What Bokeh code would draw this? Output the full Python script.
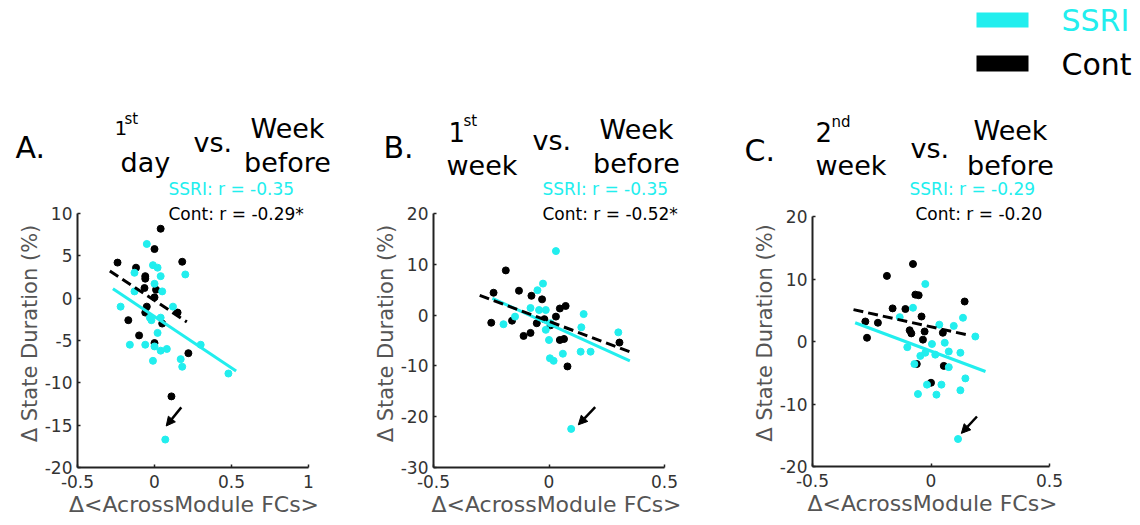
from bokeh.plotting import figure
from bokeh.layouts import row, column
from bokeh.models import (Label, Arrow, NormalHead, FixedTicker, CustomJSTickFormatter,
                          BoxAnnotation, Range1d)
from bokeh.embed import file_html
from bokeh.resources import INLINE

# ---------------- data ----------------
# Panel A: 1st day vs. week before
a_ssri_x = [-0.05, -0.01, 0.02, 0.04, 0.20, -0.13, 0.00, 0.05, -0.13, -0.22, 0.12, -0.03, -0.02,
            0.04, 0.02, -0.16, -0.06, 0.00, 0.04, 0.08, 0.30, -0.01, 0.17, 0.18, 0.48, 0.07]
a_ssri_y = [6.4, 3.9, 3.6, 2.6, 2.8, 3.0, 1.7, 0.8, 0.8, -1.0, -1.0, -2.3, -2.6,
            -2.3, -4.1, -5.5, -5.5, -5.7, -6.2, -6.0, -5.5, -7.4, -7.2, -8.1, -8.9, -16.7]
a_cont_x = [0.04, 0.00, -0.24, 0.18, -0.12, -0.06, -0.06, -0.065, 0.01, 0.00, -0.05, -0.06,
            -0.17, 0.15, 0.05, -0.10, 0.00, 0.22, 0.11]
a_cont_y = [8.2, 5.8, 4.2, 4.3, 3.6, 2.6, 2.3, 1.2, 1.0, 0.1, -1.0, -1.7,
            -2.6, -1.7, -3.0, -4.4, -5.3, -6.5, -11.6]
a_fit_ssri_x, a_fit_ssri_y = [-0.27, 0.53], [1.1, -8.6]
a_fit_cont_x, a_fit_cont_y = [-0.29, 0.21], [3.2, -2.8]
a_arrow = [0.174, -12.9, 0.076, -15.1]

# Panel B: 1st week vs. week before
b_ssri_x = [0.03, -0.026, -0.05, -0.08, -0.043, -0.014, -0.197, -0.147, -0.014, 0.007, 0.00,
            0.15, 0.14, 0.137, 0.18, 0.06, 0.004, 0.02, 0.30, 0.096]
b_ssri_y = [12.6, 6.2, 4.9, 1.4, 1.0, 1.0, -1.8, -0.3, -2.9, -1.6, -4.9,
            0.2, -2.4, -7.2, -7.2, -7.6, -8.5, -9.0, -3.4, -22.4]
b_cont_x = [-0.187, -0.24, -0.13, -0.076, -0.03, -0.25, -0.16, -0.11, -0.08, -0.053, -0.02,
            0.007, 0.03, 0.047, 0.072, 0.047, 0.065, 0.08, 0.305]
b_cont_y = [8.8, 4.4, 4.8, 3.8, 3.1, -1.5, -1.1, -4.1, -3.5, -1.6, -0.8,
            -2.0, -0.3, 1.3, 1.8, -4.9, -4.7, -10.1, -5.4]
b_fit_ssri_x, b_fit_ssri_y = [-0.245, 0.35], [3.3, -9.0]
b_fit_cont_x, b_fit_cont_y = [-0.30, 0.36], [3.9, -7.4]
b_arrow = [0.20, -18.1, 0.127, -21.6]

# Panel C: 2nd week vs. week before
c_ssri_x = [-0.024, -0.076, -0.132, 0.135, 0.096, 0.035, 0.187, -0.10, 0.004, 0.058, 0.075, 0.124,
            -0.045, -0.024, 0.018, -0.07, 0.075, 0.145, -0.055, -0.017, 0.023, 0.044, 0.124, 0.114]
c_ssri_y = [9.2, 5.4, 3.9, 3.8, 2.5, 2.7, 0.8, -0.9, -0.4, -0.2, -1.6, -1.8,
            -2.3, -1.8, -2.1, -3.6, -4.1, -5.9, -8.4, -6.9, -8.5, -6.9, -7.8, -15.6]
c_cont_x = [-0.076, -0.186, -0.066, -0.052, 0.142, -0.162, -0.108, -0.04, -0.277, -0.224,
            -0.09, -0.083, -0.027, -0.034, 0.05, -0.27, -0.06, 0.054, 0.00]
c_cont_y = [12.4, 10.5, 7.5, 7.4, 6.4, 5.3, 5.2, 4.0, 3.2, 3.0,
            1.8, 1.3, 1.6, 0.3, 1.4, 0.6, -3.6, -3.9, -6.6]
c_fit_ssri_x, c_fit_ssri_y = [-0.32, 0.23], [3.0, -4.8]
c_fit_cont_x, c_fit_cont_y = [-0.327, 0.16], [5.1, 1.0]
c_arrow = [0.194, -12.0, 0.128, -14.7]

r_ssri = ["SSRI: r = -0.35", "SSRI: r = -0.35", "SSRI: r = -0.29"]
r_cont = ["Cont: r = -0.29*", "Cont: r = -0.52*", "Cont: r = -0.20"]
letters = ["A.", "B.", "C."]
title_num = ["1", "1", "2"]
title_sup = ["st", "st", "nd"]
title_word = ["day", "week", "week"]
x_ticks = [[-0.5, 0, 0.5, 1], [-0.5, 0, 0.5], [-0.5, 0, 0.5]]
y_ticks = [[-20, -15, -10, -5, 0, 5, 10], [-30, -20, -10, 0, 10, 20], [-20, -10, 0, 10, 20]]
x_lims = [(-0.5, 1), (-0.5, 0.5), (-0.5, 0.5)]
y_lims = [(-20, 10), (-30, 20), (-20, 20)]
legend_labels = ["SSRI", "Cont"]

# ---------------- style / layout ----------------
CYAN = "#22EEEE"
BLACK = "#000000"
FONT = "DejaVu Sans"
AX = "#222222"
W, H = 1140, 525
HEADER_H = 199

# page pixel geometry: fig_left, fig_right, axis_left, axis_right, axis_top, axis_bottom, frame_right
geom = [(0, 370, 77, 308, 213, 467, 310),
        (370, 743, 427, 658, 213, 467, 673),
        (743, 1140, 800, 1037, 216, 466, 1040)]

data = [
    (a_ssri_x, a_ssri_y, a_cont_x, a_cont_y, a_fit_ssri_x, a_fit_ssri_y, a_fit_cont_x, a_fit_cont_y, a_arrow),
    (b_ssri_x, b_ssri_y, b_cont_x, b_cont_y, b_fit_ssri_x, b_fit_ssri_y, b_fit_cont_x, b_fit_cont_y, b_arrow),
    (c_ssri_x, c_ssri_y, c_cont_x, c_cont_y, c_fit_ssri_x, c_fit_ssri_y, c_fit_cont_x, c_fit_cont_y, c_arrow),
]

# title positions in page px
tpos = [dict(letter=(15, 147), num=(114, 127, "20px"), sup=(124, 118), word=(120, 162), vs=(193, 142), wk=(287, 128, 162)),
        dict(letter=(383, 147), num=(448, 131, "26px"), sup=(463, 120), word=(446, 165), vs=(532, 140), wk=(636, 129, 163)),
        dict(letter=(744, 150), num=(815, 131, "26px"), sup=(831, 121), word=(815, 165), vs=(910, 148), wk=(1010, 130, 165))]
r_left = [168, 542, 909]
TITLE_SIZE = "27px"


def lab(p, text, x, y, size, color="black", align="left", baseline="middle"):
    p.add_layout(Label(x=x, y=y, x_units="canvas", y_units="canvas", text=text,
                       text_font=FONT, text_font_size=size, text_color=color,
                       text_align=align, text_baseline=baseline))


# ---------- header figure (titles, legend, SSRI r) ----------
hdr = figure(width=W, height=HEADER_H, x_range=Range1d(0, W), y_range=Range1d(0, HEADER_H),
             x_axis_type=None, y_axis_type=None, min_border=0,
             output_backend="svg", toolbar_location=None)
hdr.outline_line_color = None
hdr.grid.visible = False
for i in range(3):
    t = tpos[i]
    lab(hdr, letters[i], t["letter"][0], t["letter"][1], "30px")
    lab(hdr, title_num[i], t["num"][0], t["num"][1], t["num"][2], baseline="alphabetic")
    lab(hdr, title_sup[i], t["sup"][0], t["sup"][1], "15px", baseline="alphabetic")
    lab(hdr, title_word[i], t["word"][0], t["word"][1], TITLE_SIZE, baseline="alphabetic")
    lab(hdr, "vs.", t["vs"][0], t["vs"][1], TITLE_SIZE)
    lab(hdr, "Week", t["wk"][0], t["wk"][1], TITLE_SIZE, align="center", baseline="alphabetic")
    lab(hdr, "before", t["wk"][0], t["wk"][2], TITLE_SIZE, align="center", baseline="alphabetic")
    lab(hdr, r_ssri[i], r_left[i], 188, "17px", CYAN)

# legend: swatches + labels
for name, col, (top, bottom, ty) in zip(legend_labels, [CYAN, BLACK], [(12, 27, 20), (55, 71, 64)]):
    hdr.add_layout(BoxAnnotation(left=976, right=1028, top=top, bottom=bottom,
                                 left_units="canvas", right_units="canvas",
                                 top_units="canvas", bottom_units="canvas",
                                 fill_color=col, fill_alpha=1, line_color=None))
    lab(hdr, name, 1061, ty, "30px", col)

# ---------- panels ----------
figs = []
for i in range(3):
    fl, fr, axl, axr, axt, axb, frr = geom[i]
    x0, x1 = x_lims[i]
    y0, y1 = y_lims[i]
    xppu = (axr - axl) / (x1 - x0)
    yppu = (axb - axt) / (y1 - y0)
    frame_w = frr - axl
    frame_h = axb - HEADER_H
    x_end = x0 + frame_w / xppu
    y_end = y0 + frame_h / yppu
    p = figure(frame_width=frame_w, frame_height=frame_h,
               x_range=Range1d(x0, x_end), y_range=Range1d(y0, y_end),
               min_border_left=axl - fl, min_border_right=fr - frr, min_border_top=0,
               min_border_bottom=H - axb,
               output_backend="svg", toolbar_location=None)
    p.title.visible = False
    p.grid.visible = False
    p.outline_line_color = None

    sx, sy, cx, cy, fsx, fsy, fcx, fcy, arr = data[i]
    p.scatter(cx, cy, size=7, color=BLACK)
    p.scatter(sx, sy, size=7, color=CYAN)
    p.line(fsx, fsy, line_color=CYAN, line_width=3)
    p.line(fcx, fcy, line_color=BLACK, line_width=3, line_dash="10 5")
    p.add_layout(Arrow(x_start=arr[0], y_start=arr[1], x_end=arr[2], y_end=arr[3],
                       line_width=2.5, line_color=BLACK,
                       end=NormalHead(size=9, fill_color=BLACK, line_color=BLACK)))

    for ax in (p.xaxis[0], p.yaxis[0]):
        ax.axis_line_width = 2
        ax.axis_line_color = AX
        ax.major_tick_in = 3
        ax.major_tick_out = 0
        ax.major_tick_line_color = AX
        ax.major_tick_line_width = 1.5
        ax.minor_tick_line_color = None
        ax.major_label_text_font = FONT
        ax.major_label_text_font_size = "17px"
        ax.major_label_text_color = "#333333"
        ax.axis_label_text_font = FONT
        ax.axis_label_text_font_style = "normal"
        ax.axis_label_text_color = "#555555"
        ax.formatter = CustomJSTickFormatter(code="return tick.toString();")
    p.xaxis.axis_label_text_font_size = "22px"
    p.yaxis.axis_label_text_font_size = "21px"
    p.xaxis.bounds = (x0, x1)
    p.yaxis.bounds = (y0, y1)
    p.xaxis.ticker = FixedTicker(ticks=x_ticks[i])
    p.yaxis.ticker = FixedTicker(ticks=y_ticks[i])
    p.xaxis.major_label_standoff = 7
    p.xaxis.axis_label_standoff = 1
    p.yaxis.major_label_standoff = 5
    p.yaxis.axis_label_standoff = 0
    p.xaxis.axis_label = "Δ<AcrossModule FCs>"
    p.yaxis.axis_label = "Δ State Duration (%)"

    # Cont r annotation (canvas px inside this figure)
    lab(p, r_cont[i], r_left[i] - fl, 213 - HEADER_H, "17px", "black")
    figs.append(p)

layout = column(hdr, row(*figs))
open("out.html", "w").write(file_html(layout, INLINE))
